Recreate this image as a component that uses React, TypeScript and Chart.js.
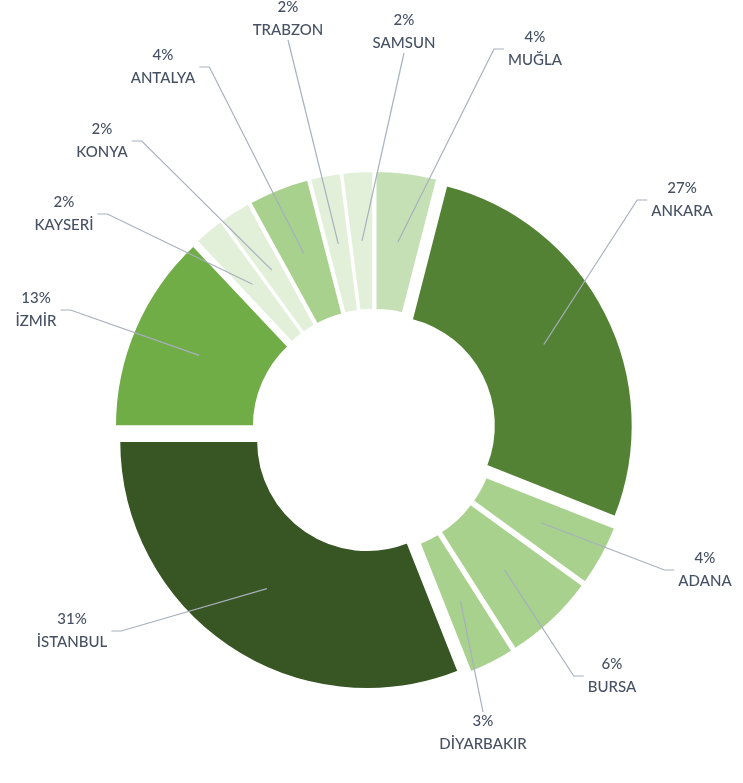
import React, { useEffect, useRef } from 'react';
import { Chart, registerables } from 'chart.js';

Chart.register(...registerables);

// ---- data ----
const cities = ['ANKARA', 'ADANA', 'BURSA', 'DİYARBAKIR', 'İSTANBUL', 'İZMİR', 'KAYSERİ', 'KONYA', 'ANTALYA', 'TRABZON', 'SAMSUN', 'MUĞLA'];
const shares = [27, 4, 6, 3, 31, 13, 2, 2, 4, 2, 2, 4];

// ---- styles / layout (kept apart from data) ----
const sliceColors = ['#548235', '#A9D18E', '#A9D18E', '#A9D18E', '#375623', '#70AD47', '#E2F0D9', '#E2F0D9', '#A9D18E', '#E2F0D9', '#E2F0D9', '#C5E0B4'];
// label block centre, relative to the doughnut centre
const labelOffsets: [number, number][] = [
  [308, -231], [331, 139], [238, 245], [109, 302], [-302, 200], [-338, -121],
  [-310, -217], [-272, -290], [-211, -364], [-86, -412], [30, -399], [161, -382],
];
const EXPLODE = 12;
const FONT = '500 15px Lato, "Open Sans", sans-serif';
const LINE_GAP = 23;
const TEXT_COLOR = '#465163';
const LEADER_COLOR = '#A8AFBE';

const explodePlugin = {
  id: 'explode',
  beforeDatasetDraw(chart: any, args: any) {
    const ctx = chart.ctx;
    args.meta.data.forEach((arc: any) => {
      const p = arc.getProps(['startAngle', 'endAngle'], true);
      const mid = (p.startAngle + p.endAngle) / 2;
      ctx.save();
      ctx.translate(Math.cos(mid) * EXPLODE, Math.sin(mid) * EXPLODE);
      arc.draw(ctx);
      ctx.restore();
    });
    return false;
  },
};

const labelPlugin = {
  id: 'outerLabels',
  afterDraw(chart: any) {
    const ctx = chart.ctx;
    const meta = chart.getDatasetMeta(0);
    ctx.save();
    ctx.font = FONT;
    meta.data.forEach((arc: any, i: number) => {
      const p = arc.getProps(['x', 'y', 'startAngle', 'endAngle', 'innerRadius', 'outerRadius'], true);
      const mid = (p.startAngle + p.endAngle) / 2;
      const rr = EXPLODE + (p.innerRadius + p.outerRadius) / 2;
      const ax = p.x + Math.cos(mid) * rr;
      const ay = p.y + Math.sin(mid) * rr;
      const lx = p.x + labelOffsets[i][0];
      const ly = p.y + labelOffsets[i][1];
      const line1 = shares[i] + '%';
      const line2 = cities[i];
      const w = Math.max(ctx.measureText(line1).width, ctx.measureText(line2).width);
      const h = LINE_GAP + 15;
      const dx = lx - ax;
      const dy = ly - ay;
      ctx.strokeStyle = LEADER_COLOR;
      ctx.lineWidth = 1.2;
      ctx.beginPath();
      if (Math.abs(dy) > 2 * Math.abs(dx)) {
        const ey = dy < 0 ? ly + h / 2 + 2 : ly - h / 2 - 2;
        ctx.moveTo(ax, ay);
        ctx.lineTo(lx, ey);
      } else {
        const side = dx > 0 ? -1 : 1;
        const ex = lx + side * (w / 2 + 4);
        ctx.moveTo(ax, ay);
        ctx.lineTo(ex + side * 10, ly);
        ctx.lineTo(ex, ly);
      }
      ctx.stroke();
      ctx.fillStyle = TEXT_COLOR;
      ctx.textAlign = 'center';
      ctx.textBaseline = 'middle';
      ctx.fillText(line1, lx, ly - LINE_GAP / 2);
      ctx.fillText(line2, lx, ly + LINE_GAP / 2);
    });
    ctx.restore();
  },
};

export default function App() {
  const ref = useRef<HTMLCanvasElement | null>(null);
  useEffect(() => {
    if (!ref.current) return;
    const chart = new Chart(ref.current, {
      type: 'doughnut',
      data: {
        labels: cities,
        datasets: [
          {
            data: shares,
            backgroundColor: sliceColors,
            borderColor: '#FFFFFF',
            borderWidth: 2,
          },
        ],
      },
      options: {
        responsive: false,
        animation: false,
        devicePixelRatio: 1,
        rotation: 14.4,
        radius: 248,
        cutout: '44%',
        layout: { padding: { top: 79, left: 5, right: 0, bottom: 0 } },
        plugins: {
          legend: { display: false },
          tooltip: { enabled: false },
        },
      },
      plugins: [explodePlugin, labelPlugin],
    });
    return () => chart.destroy();
  }, []);
  return (
    <div style={{ position: 'fixed', left: 0, top: 0, width: 743, height: 783, background: '#FFFFFF' }}>
      <canvas ref={ref} width={743} height={783} style={{ display: 'block' }} />
    </div>
  );
}
